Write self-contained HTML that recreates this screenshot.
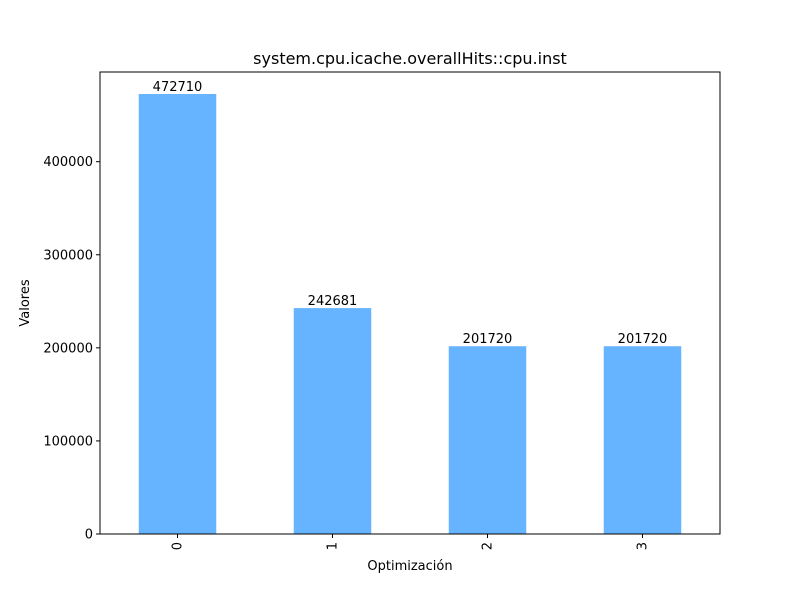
<!DOCTYPE html>
<html><head><meta charset="utf-8"><style>
body{margin:0;background:#fff}
svg text{font-family:"DejaVu Sans","Liberation Sans",sans-serif;fill:#000}
</style></head><body>
<svg id="chart" width="800" height="600">
<rect width="800" height="600" fill="#fff"/>
<text x="410" y="64" font-size="16" text-anchor="middle">system.cpu.icache.overallHits::cpu.inst</text>
<text x="410" y="570" font-size="13" text-anchor="middle">Optimización</text>
<text transform="translate(29,303) rotate(-90)" font-size="13" text-anchor="middle">Valores</text>
<g id="marks"></g>
<rect x="100" y="72" width="620" height="462" fill="none" stroke="#000" stroke-width="1"/>
</svg>
<script>
const categories = ["0","1","2","3"];
const values = [472710, 242681, 201720, 201720];
const yTicks = [0, 100000, 200000, 300000, 400000];
const L=100,R=720,T=72,B=534;
const yMax = Math.max(...values)*1.05;
const y = v => B - v/yMax*(B-T);
const step=(R-L)/categories.length;
const x = i => L + step*(i+0.5);
const ns="http://www.w3.org/2000/svg";
const g=document.getElementById('marks');
function mk(t,a,txt){const e=document.createElementNS(ns,t);for(const k in a)e.setAttribute(k,a[k]);if(txt!=null)e.textContent=txt;g.appendChild(e);return e;}
values.forEach((v,i)=>{
  const bw=step*0.5;
  const r=mk('rect',{x:x(i)-bw/2,y:y(v),width:bw,height:B-y(v),fill:'#66b3ff'});
  
  
  const t=mk('text',{x:x(i),y:y(v)-3,'font-size':13,'text-anchor':'middle'},String(v));
  
  
  mk('line',{x1:x(i),x2:x(i),y1:B,y2:B+4,stroke:'#000'});
  const xl=mk('text',{transform:`translate(${x(i)+4},${B+8}) rotate(-90)`,'font-size':13,'text-anchor':'end'},categories[i]);
  
  
});
yTicks.forEach(v=>{
  mk('line',{x1:L-4,x2:L,y1:y(v),y2:y(v),stroke:'#000'});
  const t=mk('text',{x:L-7,y:y(v)+4.5,'font-size':13,'text-anchor':'end'},String(v));
  
  
});
</script>
</body></html>
